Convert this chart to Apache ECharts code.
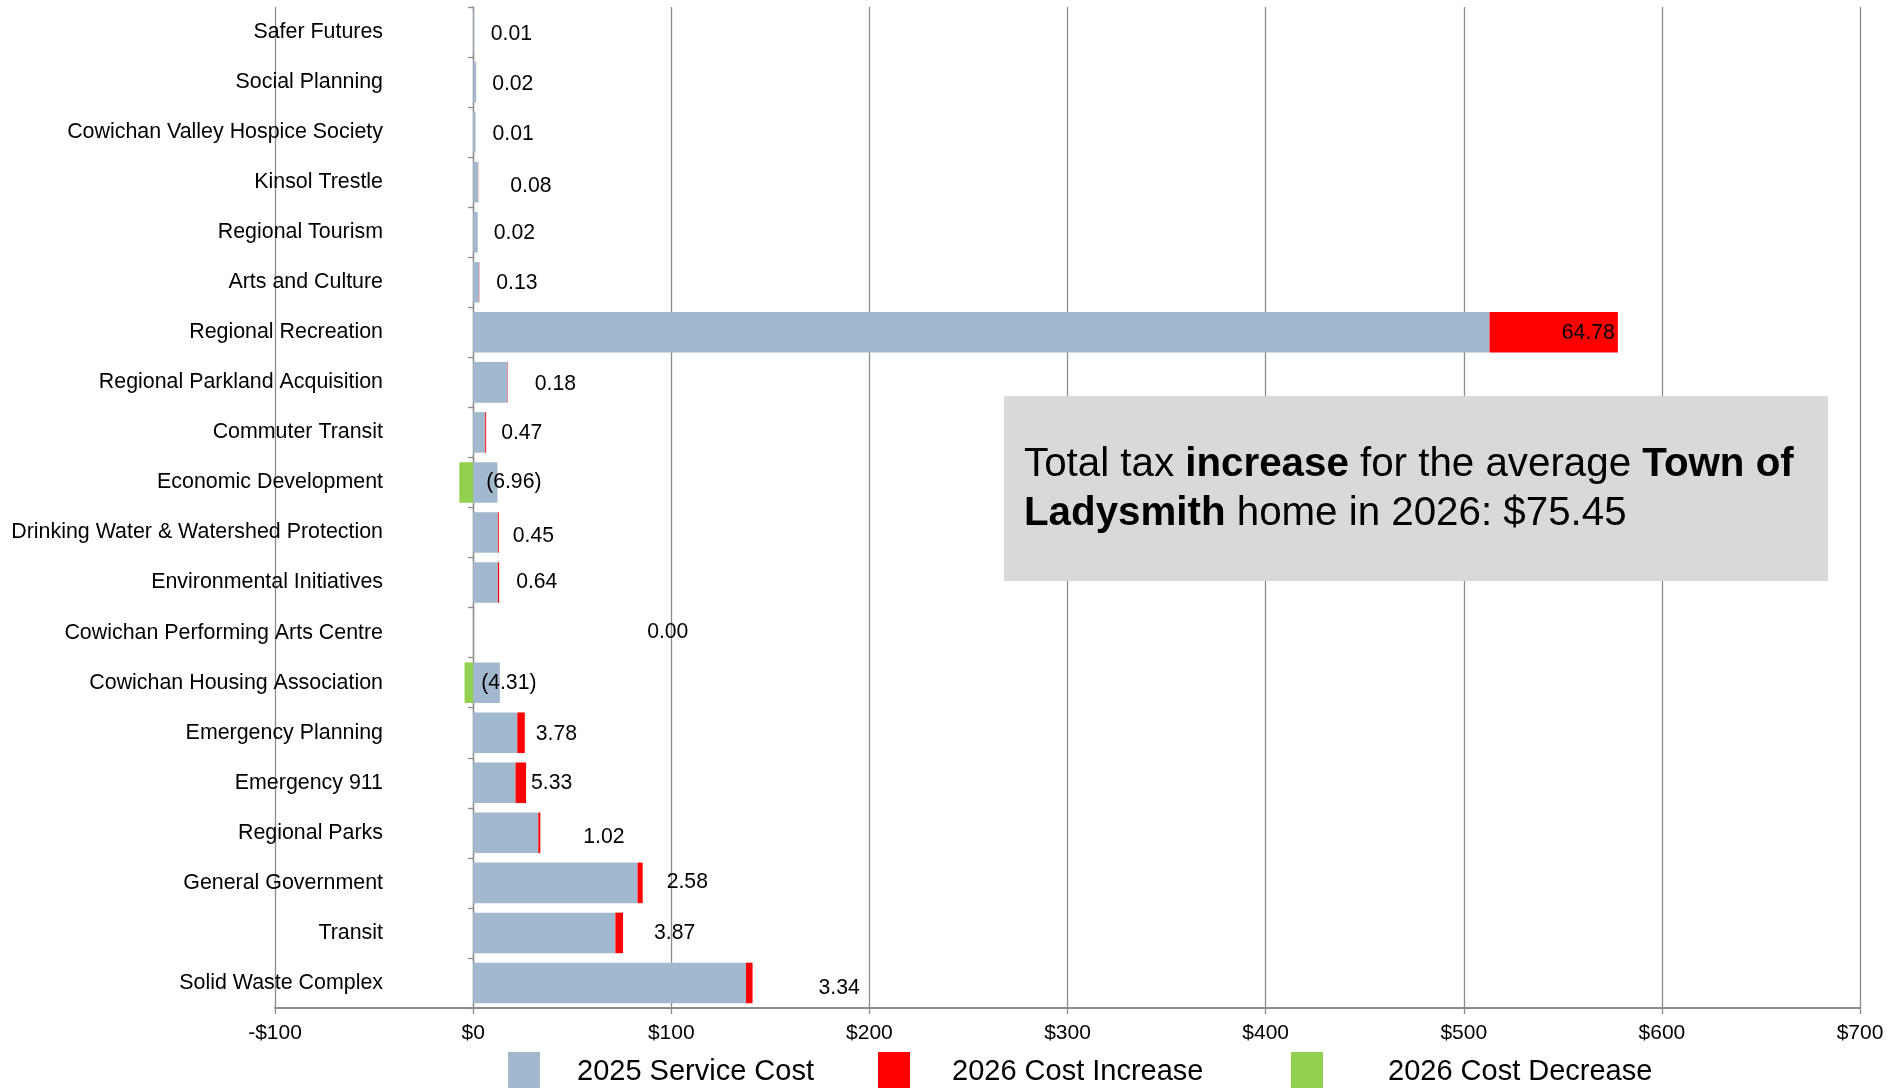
<!DOCTYPE html>
<html>
<head>
<meta charset="utf-8">
<script src="https://cdn.jsdelivr.net/npm/echarts@6/dist/echarts.min.js"></script>
<style>
  html, body { margin: 0; padding: 0; background: #fff; }
  #chart { width: 1891px; height: 1088px; }
</style>
</head>
<body>
<div id="chart"></div>
<script>
// services, top to bottom
var categories = ['Safer Futures', 'Social Planning', 'Cowichan Valley Hospice Society', 'Kinsol Trestle',
  'Regional Tourism', 'Arts and Culture', 'Regional Recreation', 'Regional Parkland Acquisition',
  'Commuter Transit', 'Economic Development', 'Drinking Water & Watershed Protection',
  'Environmental Initiatives', 'Cowichan Performing Arts Centre', 'Cowichan Housing Association',
  'Emergency Planning', 'Emergency 911', 'Regional Parks', 'General Government', 'Transit',
  'Solid Waste Complex'];
// 2025 cost per home ($)
var serviceCost = [0.3, 1.5, 1.2, 2.5, 2.3, 3.0, 513.0, 17.3, 6.1, 12.3, 12.5, 12.5, 0, 13.5,
  22.3, 21.4, 32.9, 83.0, 71.8, 137.7];
// 2026 change ($), negative = decrease
var change = [0.01, 0.02, 0.01, 0.08, 0.02, 0.13, 64.78, 0.18, 0.47, -6.96, 0.45, 0.64, 0.00, -4.31,
  3.78, 5.33, 1.02, 2.58, 3.87, 3.34];
var xTicks = [-100, 0, 100, 200, 300, 400, 500, 600, 700];

// label nudges (px) to mimic the hand placed excel labels
var labelNudge = [[17, 2], [16, 2], [17, 2], [32, 4], [16, 1], [17, 1], [-3, 1], [27, 2], [15, 1],
  [13, 0], [14, 4], [17, 0], [174, 0], [8, 0], [11, 1], [5, 0], [43, 4], [24, -1], [31, 0], [66, 5]];

var increase = change.map(function (v) { return v > 0 ? v : 0; });
var decrease = change.map(function (v) { return v < 0 ? v : 0; });

var FONT = 'Liberation Sans, Arial, sans-serif';
var GRID_GRAY = '#8c8c8c';

var labelData = categories.map(function (c, i) {
  var anchor = change[i] < 0 ? 0 : serviceCost[i] + increase[i];
  var inside = i === 6;
  return {
    value: [anchor, i],
    label: {
      position: inside ? 'left' : 'right',
      offset: labelNudge[i]
    }
  };
});

function fmtChange(v) {
  return v < 0 ? '(' + Math.abs(v).toFixed(2) + ')' : v.toFixed(2);
}

function legendItem(name, left, gap) {
  return {
    data: [name],
    left: left,
    top: 1052,
    padding: 0,
    icon: 'rect',
    itemWidth: 32,
    itemHeight: 40,
    selectedMode: false,
    textStyle: { fontSize: 29, color: '#000', fontFamily: FONT, padding: [0, 0, 0, gap] }
  };
}

var chart = echarts.init(document.getElementById('chart'));
var option = {
  backgroundColor: '#fff',
  animation: false,
  textStyle: { fontFamily: FONT },
  grid: { left: 275, right: 31, top: 7, bottom: 80, containLabel: false, outerBoundsMode: 'none' },
  legend: [
    legendItem('2025 Service Cost', 508, 32),
    legendItem('2026 Cost Increase', 878, 37),
    legendItem('2026 Cost Decrease', 1291, 60)
  ],
  xAxis: {
    type: 'value',
    min: xTicks[0],
    max: xTicks[xTicks.length - 1],
    interval: 100,
    axisLine: { show: true, lineStyle: { color: GRID_GRAY, width: 2 } },
    axisTick: { show: true, length: 6, lineStyle: { color: GRID_GRAY, width: 1.3 } },
    splitLine: { show: true, lineStyle: { color: GRID_GRAY, width: 1.3 } },
    axisLabel: {
      fontSize: 21, color: '#000', margin: 15, fontFamily: FONT,
      formatter: function (v) { return v < 0 ? '-$' + Math.abs(v) : '$' + v; }
    }
  },
  yAxis: {
    type: 'category',
    data: categories,
    inverse: true,
    axisLine: { show: true, onZero: true, lineStyle: { color: GRID_GRAY, width: 1.3 } },
    axisTick: { show: true, length: 5, lineStyle: { color: GRID_GRAY, width: 1.3 } },
    // labels hang off the grid edge, pulled in so they end at ~383px like the source
    axisLabel: { fontSize: 21.4, color: '#000', margin: -108, fontFamily: FONT }
  },
  series: [
    {
      name: '2025 Service Cost', type: 'bar', stack: 'total',
      barCategoryGap: '19%', data: serviceCost,
      itemStyle: { color: '#a2b8ce' }
    },
    {
      name: '2026 Cost Increase', type: 'bar', stack: 'total',
      barCategoryGap: '19%', data: increase,
      itemStyle: { color: '#ff0000' }
    },
    {
      name: '2026 Cost Decrease', type: 'bar', stack: 'total',
      barCategoryGap: '19%', data: decrease,
      itemStyle: { color: '#92d050' }
    },
    {
      name: 'labels', type: 'scatter', symbolSize: 0, silent: true, z: 5,
      itemStyle: { opacity: 1 },
      data: labelData,
      label: {
        show: true, distance: 0, fontSize: 21.2, color: '#000', fontFamily: FONT,
        formatter: function (p) { return fmtChange(change[p.dataIndex]); }
      }
    }
  ],
  graphic: [
    {
      type: 'rect', z: 10,
      shape: { x: 1004, y: 396, width: 824, height: 185 },
      style: { fill: '#d9d9d9' }
    },
    {
      type: 'text', z: 11, x: 1024, y: 440,
      style: {
        text: '{n|Total tax }{b|increase}{n| for the average }{b|Town of}\n{b|Ladysmith}{n| home in 2026: $75.45}',
        verticalAlign: 'top',
        rich: {
          n: { fontSize: 40.3, lineHeight: 49, fontFamily: FONT, fill: '#000' },
          b: { fontSize: 40.3, lineHeight: 49, fontFamily: FONT, fontWeight: 'bold', fill: '#000' }
        }
      }
    }
  ]
};
chart.setOption(option);
</script>
</body>
</html>
